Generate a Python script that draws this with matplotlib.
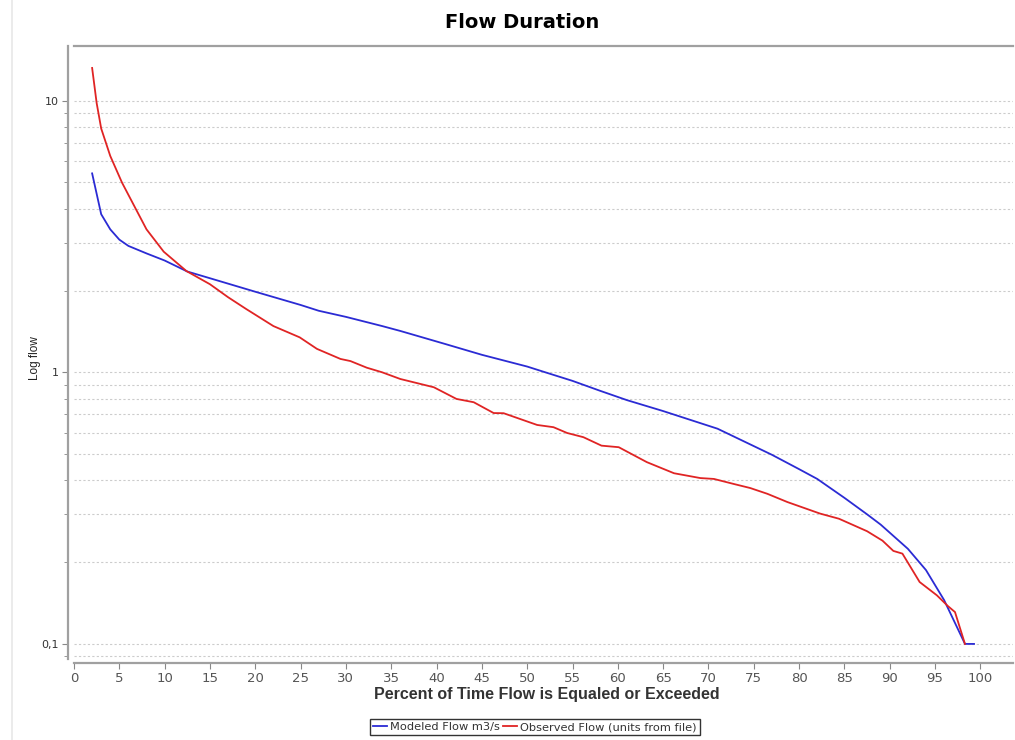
import matplotlib
matplotlib.use('Agg')
import matplotlib.pyplot as plt
from matplotlib.lines import Line2D
from matplotlib.ticker import FixedLocator, FixedFormatter, LogLocator, NullFormatter

# Flow duration data
modeled_pct = [2, 3, 4, 5, 6, 8, 10, 12.5, 15, 20, 25, 27, 30, 34, 36, 41, 45, 50, 52,
               55, 58, 61, 65, 71, 75, 77, 80, 82, 85, 87.5, 89, 92, 94, 96, 98.3, 99.3]
modeled_flow = [5.40, 3.82, 3.36, 3.08, 2.92, 2.74, 2.58, 2.35, 2.22, 1.98, 1.77, 1.685, 1.60,
                1.48, 1.42, 1.27, 1.16, 1.05, 1.00, 0.93, 0.856, 0.79, 0.72, 0.62, 0.535,
                0.497, 0.44, 0.405, 0.345, 0.30, 0.275, 0.224, 0.187, 0.145, 0.1, 0.1]

observed_pct = [2, 2.5, 3, 4, 5.3, 8, 9.9, 12.4, 15, 17, 19, 22, 24.9, 26.8, 29.4, 30.5,
                32.3, 34, 36, 39.7, 42.2, 44.1, 46.3, 47.4, 51.1, 52.9, 54.4, 56.2, 58.2,
                60.1, 63.2, 66.2, 69.1, 70.6, 72.8, 74.6, 76.5, 78.7, 82.3, 84.4, 87.5,
                89.2, 90.4, 91.4, 93.3, 95.2, 96.4, 97.2, 98.3]
observed_flow = [13.2, 9.8, 7.9, 6.26, 4.99, 3.36, 2.78, 2.36, 2.11, 1.89, 1.71, 1.48, 1.345,
                 1.22, 1.12, 1.10, 1.04, 1.0, 0.945, 0.881, 0.798, 0.776, 0.708, 0.707, 0.64,
                 0.628, 0.598, 0.577, 0.537, 0.530, 0.467, 0.425, 0.408, 0.405, 0.388, 0.375,
                 0.357, 0.333, 0.302, 0.289, 0.260, 0.240, 0.220, 0.215, 0.169, 0.151, 0.138,
                 0.131, 0.1]

x_ticks = list(range(0, 101, 5))
y_ticks = [0.1, 1, 10]
y_tick_labels = ['0,1', '1', '10']

W, H = 1015, 740
fig = plt.figure(figsize=(W / 100, H / 100), dpi=100)
fig.patch.set_facecolor('white')

# plot area in pixel coordinates
left, right, top, bottom = 74, 1013, 46, 659
ax = fig.add_axes([left / W, 1 - bottom / H, (right - left) / W, (bottom - top) / H])

ax.plot(modeled_pct, modeled_flow, color='#2b2bd4', lw=1.3, label='Modeled Flow m3/s')
ax.plot(observed_pct, observed_flow, color='#e02424', lw=1.3, label='Observed Flow (units from file)')

ax.set_yscale('log')
ax.set_xlim(0, 103.6)
ax.set_ylim(0.088, 15.9)

ax.xaxis.set_major_locator(FixedLocator(x_ticks))
ax.yaxis.set_major_locator(FixedLocator(y_ticks))
ax.yaxis.set_major_formatter(FixedFormatter(y_tick_labels))
ax.yaxis.set_minor_locator(LogLocator(base=10, subs=range(2, 10)))
ax.yaxis.set_minor_formatter(NullFormatter())

ax.tick_params(axis='x', which='major', length=4, color='#888888', labelsize=9.5,
               labelcolor='#555555', pad=2)
ax.tick_params(axis='y', which='major', length=4, color='#888888', labelsize=8,
               labelcolor='#333333', pad=3)
ax.tick_params(axis='y', which='minor', length=3, color='#888888')

ax.grid(True, axis='y', which='both', color='#cccccc', lw=0.8, ls=(0, (2, 2)))
ax.set_axisbelow(True)

for side in ['left', 'bottom', 'top']:
    ax.spines[side].set_color('#a0a0a0')
    ax.spines[side].set_linewidth(1.6)
ax.spines['right'].set_visible(False)
ax.spines['left'].set_position(('outward', 4))
ax.spines['bottom'].set_position(('outward', 3))

fig.text(522 / W, 1 - 22 / H, 'Flow Duration', ha='center', va='center',
         fontsize=14, fontweight='bold')
fig.text(547 / W, 1 - 694 / H, 'Percent of Time Flow is Equaled or Exceeded',
         ha='center', va='center', fontsize=11.5, fontweight='bold', color='#333333',
         family=['Liberation Sans', 'DejaVu Sans'])
fig.text(35 / W, 1 - 358 / H, 'Log flow', ha='center', va='center', rotation=90,
         fontsize=8.5, color='#222222', family=['Liberation Sans', 'DejaVu Sans'])

# faint panel border on the left
fig.add_artist(Line2D([12 / W, 12 / W], [0, 1], transform=fig.transFigure,
                      color='#e8e8e8', lw=1.2))

leg = fig.legend(loc='center', bbox_to_anchor=(535 / W, 1 - 727 / H), ncol=2,
                 fontsize=8.2, frameon=True, fancybox=False, edgecolor='black',
                 handlelength=1.2, handletextpad=0.3, columnspacing=0.3,
                 borderpad=0.3, borderaxespad=0)
leg.get_frame().set_linewidth(1.0)
for t in leg.get_texts():
    t.set_color('#333333')

fig.savefig('out.png', dpi=100)
